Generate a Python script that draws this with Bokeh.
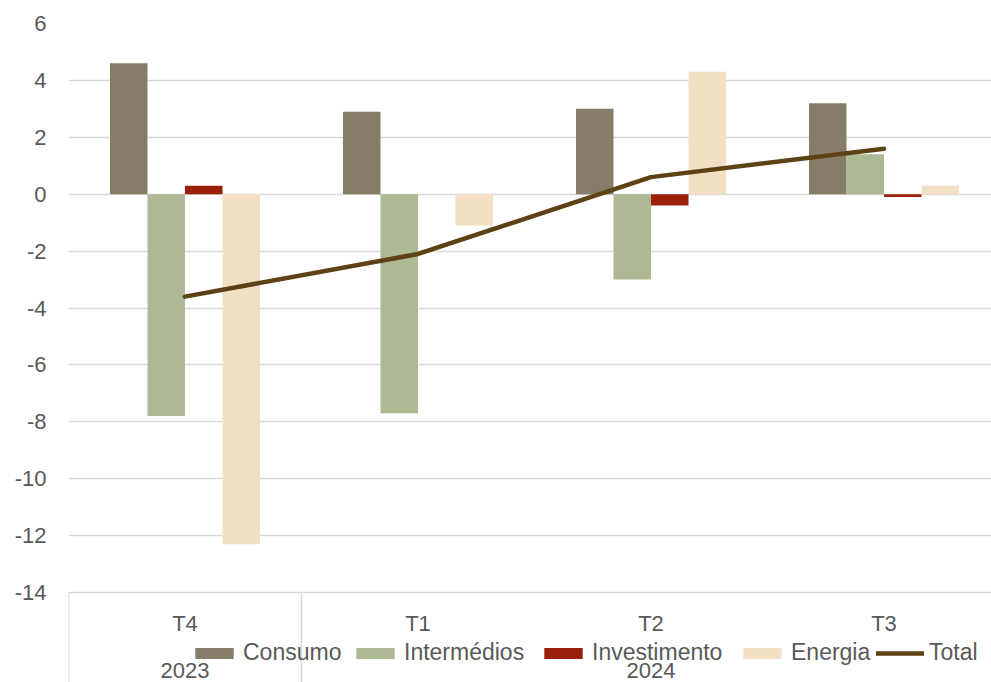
import numpy as np
from bokeh.plotting import figure
from bokeh.models import Range1d, FixedTicker, LinearAxis, Legend, LegendItem, Grid
from bokeh.embed import file_html
from bokeh.resources import INLINE
from bokeh.core.properties import value

# ---- data ----
quarters = ["T4", "T1", "T2", "T3"]
years = ["2023", "2024"]
year_first_q = [0, 1]   # index of first quarter of each year
year_last_q = [0, 3]    # index of last quarter of each year
consumo = [4.6, 2.9, 3.0, 3.2]
intermedios = [-7.8, -7.7, -3.0, 1.4]
investimento = [0.3, 0.0, -0.4, -0.1]
energia = [-12.3, -1.1, 4.3, 0.3]
total = [-3.6, -2.1, 0.6, 1.6]
series_names = ["Consumo", "Intermédios", "Investimento", "Energia"]
y_ticks = [-14, -12, -10, -8, -6, -4, -2, 0, 2, 4, 6]

# ---- style ----
bar_colors = ["#857D68", "#ADB895", "#9A200C", "#F3DFC3"]
line_color = "#5E4216"
text_color = "#595959"
grid_color = "#D9D9D9"
font = "Liberation Sans"
fsize = "22px"
legend_x = [122, 283, 471, 670, 808]   # legend entry positions (px from frame left)

W, H = 991, 682
top_border, left_border = 23, 68
y_min, y_max = y_ticks[0], y_ticks[-1]
px_per_unit = 569 / (y_max - y_min)
frame_h = H - top_border
frame_w = W - left_border
cat_px = 233
y_bottom = y_max - frame_h / px_per_unit   # frame extends below axis for category labels

p = figure(width=W, height=H, output_backend="svg", toolbar_location=None,
           x_range=Range1d(-0.5, -0.5 + frame_w / cat_px), y_range=Range1d(y_bottom, y_max),
           min_border_left=left_border, min_border_right=0, min_border_top=top_border,
           min_border_bottom=0, x_axis_type=None, y_axis_type=None)
p.outline_line_color = None
p.background_fill_color = "white"
p.border_fill_color = "white"

grid = Grid(dimension=1, ticker=FixedTicker(ticks=y_ticks),
            grid_line_color=grid_color, grid_line_width=1.5)
p.add_layout(grid)

xs = np.arange(len(quarters))
bw = 0.161
renderers = []
for i, (vals, col) in enumerate(zip([consumo, intermedios, investimento, energia], bar_colors)):
    r = p.vbar(x=xs + (i - 1.5) * bw, top=vals, bottom=0, width=bw,
               fill_color=col, line_color=None)
    renderers.append(r)
rl = p.line(xs, total, line_color=line_color, line_width=4.5, line_cap="round",
            line_join="round")

# y axis
yax = LinearAxis(ticker=FixedTicker(ticks=y_ticks),
                 major_label_overrides={t: str(t) for t in y_ticks})
yax.axis_line_color = None
yax.major_tick_line_color = None
yax.minor_tick_line_color = None
yax.major_tick_out = 0
yax.major_tick_in = 0
yax.major_label_standoff = 22
yax.major_label_text_font = font
yax.major_label_text_font_size = fsize
yax.major_label_text_color = text_color
p.add_layout(yax, "left")

# category dividers (frame left and year boundaries)
div_x = [f - 0.5 for f in year_first_q]
p.segment(x0=div_x, y0=[y_min] * len(div_x), x1=div_x, y1=[y_bottom] * len(div_x),
          line_color=grid_color, line_width=1.5)

# quarter labels
q_label_y = y_min - 31 / px_per_unit
p.text(x=xs, y=[q_label_y] * len(xs), text=quarters, text_align="center",
       text_baseline="middle", text_font=value(font), text_font_size=fsize,
       text_color=text_color)

# year labels, centered on their group
ycenters = [(a + b) / 2 for a, b in zip(year_first_q, year_last_q)]
yr_label_y = y_min - 78 / px_per_unit
p.text(x=ycenters, y=[yr_label_y] * len(ycenters), text=years, text_align="center",
       text_baseline="middle", text_font=value(font), text_font_size=fsize,
       text_color=text_color)

all_names = series_names + ["Total"]
all_renderers = renderers + [rl]
for name, r, lx in zip(all_names, all_renderers, legend_x):
    legend = Legend(items=[LegendItem(label=name, renderers=[r])], location=(lx, 16),
                    orientation="horizontal",
                    glyph_width=48, glyph_height=14, label_standoff=5, spacing=0,
                    padding=0, margin=0, background_fill_alpha=0,
                    border_line_color=None, label_text_font=font,
                    label_text_font_size="23px", label_text_color=text_color,
                    label_height=20)
    p.add_layout(legend, "center")

open("out.html", "w").write(file_html(p, INLINE))
